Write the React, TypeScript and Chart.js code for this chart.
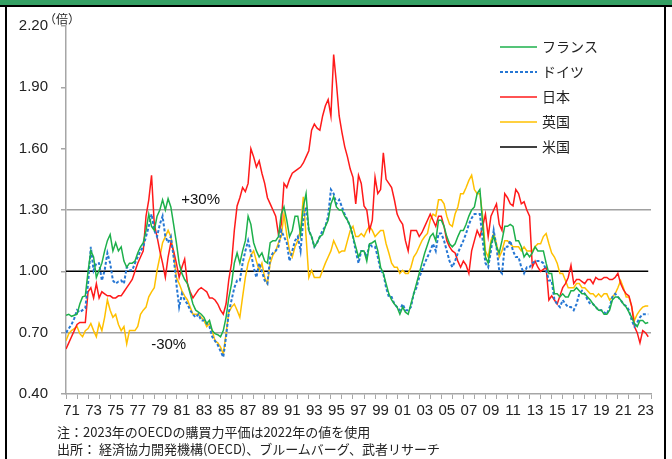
import { useEffect, useRef } from 'react';
import { Chart, registerables } from 'chart.js';
Chart.register(...registerables);

// ---- data (quarterly, starting 1971 Q1) ----
const START_YEAR = 1971;
const STEP = 0.25;
const X_MIN = 1971;
const X_MAX = 2024;
const Y_TICKS = [0.4, 0.7, 1.0, 1.3, 1.6, 1.9, 2.2];
const BAND_LINES = [0.7, 1.3];

const SERIES_NAMES = ['フランス', 'ドイツ', '日本', '英国', '米国'];

const FRANCE = [
  0.785, 0.79, 0.78, 0.785, 0.79, 0.84, 0.875, 0.88, 1.0, 1.1, 1.07, 0.97,
  1.005, 1.04, 1.1, 1.15, 1.18, 1.1, 1.14, 1.1, 1.12, 1.05, 1.02, 1.04,
  1.04, 1.05, 1.09, 1.12, 1.14, 1.2, 1.28, 1.22, 1.2, 1.27, 1.3, 1.35,
  1.3, 1.355, 1.315, 1.23, 1.14, 1.04, 0.99, 0.96, 0.94, 0.89, 0.84, 0.81,
  0.8, 0.79, 0.775, 0.745, 0.76, 0.71, 0.695, 0.69, 0.68, 0.71, 0.775, 0.87,
  0.94, 1.04, 1.09, 1.04, 1.1, 1.15, 1.27, 1.23, 1.14, 1.1, 1.07, 1.09,
  1.05, 1.04, 1.14, 1.15, 1.15, 1.17, 1.28, 1.315, 1.25, 1.17, 1.2, 1.27,
  1.27, 1.18, 1.315, 1.38, 1.2, 1.17, 1.12, 1.14, 1.17, 1.18, 1.22, 1.25,
  1.33, 1.365, 1.315, 1.3, 1.3, 1.27, 1.25, 1.22, 1.17, 1.12, 1.07, 1.1,
  1.1, 1.05, 1.135, 1.14, 1.15, 1.1, 1.02, 0.99, 0.94, 0.89, 0.86, 0.84,
  0.825, 0.79, 0.825, 0.8, 0.79, 0.84, 0.89, 0.94, 0.99, 1.04, 1.09, 1.13,
  1.17, 1.185, 1.15, 1.25, 1.25, 1.22, 1.17, 1.135, 1.12, 1.135, 1.17, 1.2,
  1.2, 1.23, 1.27, 1.3, 1.315, 1.38, 1.4, 1.23, 1.07, 1.04, 1.135, 1.17,
  1.12, 1.09, 1.15, 1.22, 1.22, 1.23, 1.22, 1.15, 1.15, 1.12, 1.07, 1.09,
  1.07, 1.09, 1.12, 1.1, 1.1, 1.1, 1.04, 0.99, 0.99, 0.89, 0.89, 0.875,
  0.89, 0.875, 0.875, 0.905, 0.905, 0.92, 0.905, 0.89, 0.89, 0.875, 0.86, 0.84,
  0.825, 0.81, 0.81, 0.79, 0.79, 0.81, 0.86, 0.875, 0.875, 0.86, 0.84, 0.825,
  0.8, 0.775, 0.745, 0.73, 0.76, 0.76, 0.745, 0.75,
];

const GERMANY = [
  0.7, 0.72, 0.74, 0.77, 0.81, 0.8, 0.81, 0.82, 0.94, 1.12, 1.005, 1.04,
  1.04, 0.955, 1.005, 1.09, 1.04, 0.955, 0.94, 0.95, 0.955, 0.94, 1.02, 1.005,
  1.005, 1.04, 1.07, 1.1, 1.12, 1.17, 1.22, 1.28, 1.2, 1.17, 1.23, 1.27,
  1.17, 1.14, 1.17, 1.07, 0.94, 0.825, 0.89, 0.86, 0.84, 0.81, 0.79, 0.775,
  0.79, 0.76, 0.76, 0.745, 0.73, 0.68, 0.66, 0.64, 0.61, 0.58, 0.68, 0.8,
  0.86, 0.92, 0.955, 0.955, 1.04, 1.1, 1.15, 1.09, 1.02, 0.97, 1.04, 1.0,
  0.955, 0.94, 1.07, 1.09, 1.1, 1.12, 1.2, 1.17, 1.14, 1.05, 1.1, 1.15,
  1.17, 1.1, 1.25, 1.315, 1.2, 1.17, 1.12, 1.14, 1.17, 1.2, 1.22, 1.27,
  1.4, 1.38, 1.33, 1.35, 1.315, 1.28, 1.25, 1.22, 1.17, 1.1, 1.04, 1.1,
  1.1, 1.07, 1.135, 1.12, 1.12, 1.07, 1.005, 0.99, 0.92, 0.875, 0.875, 0.84,
  0.825, 0.81, 0.84, 0.81, 0.81, 0.825, 0.89, 0.92, 0.97, 1.005, 1.04, 1.07,
  1.1, 1.135, 1.1, 1.185, 1.185, 1.15, 1.1, 1.05, 1.02, 1.05, 1.09, 1.12,
  1.15, 1.185, 1.23, 1.26, 1.28, 1.28, 1.28, 1.15, 1.04, 1.02, 1.1, 1.2,
  1.12, 1.005, 0.99, 1.12, 1.12, 1.15, 1.1, 1.07, 1.07, 1.02, 0.99, 1.02,
  1.02, 1.04, 1.05, 1.05, 1.05, 1.04, 1.005, 0.955, 0.955, 0.86, 0.84, 0.825,
  0.86, 0.84, 0.825, 0.825, 0.81, 0.84, 0.89, 0.905, 0.89, 0.86, 0.84, 0.84,
  0.825, 0.81, 0.81, 0.8, 0.79, 0.825, 0.875, 0.89, 0.875, 0.86, 0.84, 0.83,
  0.81, 0.76, 0.73, 0.75, 0.775, 0.79, 0.79, 0.79,
];

const JAPAN = [
  0.62, 0.65, 0.68, 0.71, 0.74, 0.75, 0.75, 0.75, 0.9, 0.92, 0.87, 0.94,
  0.87, 0.9, 0.89, 0.88, 0.88, 0.87, 0.87, 0.88, 0.88, 0.9, 0.92, 0.94,
  0.96, 1.0, 1.04, 1.07, 1.1, 1.27, 1.35, 1.47, 1.23, 1.17, 1.1, 1.04,
  0.97, 1.07, 1.14, 1.1, 1.04, 0.97, 1.02, 1.06, 0.94, 0.9, 0.87, 0.89,
  0.91, 0.92, 0.91, 0.9, 0.87, 0.87, 0.86, 0.84, 0.81, 0.79, 0.84, 0.96,
  1.04, 1.2, 1.32, 1.36, 1.41, 1.39, 1.43, 1.6, 1.56, 1.51, 1.54, 1.48,
  1.43, 1.36, 1.33, 1.3, 1.27, 1.18, 1.23, 1.43, 1.41, 1.45, 1.48, 1.49,
  1.5, 1.51, 1.53, 1.56, 1.59, 1.69, 1.72, 1.7, 1.69, 1.76, 1.81, 1.84,
  1.76, 2.06, 1.92, 1.76, 1.68, 1.61, 1.56, 1.5, 1.46, 1.33, 1.47, 1.43,
  1.32, 1.3, 1.2, 1.25, 1.46, 1.38, 1.4, 1.58, 1.45, 1.43, 1.41, 1.35,
  1.28, 1.25, 1.23, 1.15, 1.1, 1.2, 1.2, 1.2, 1.17, 1.19, 1.22, 1.25,
  1.28, 1.25, 1.22, 1.27, 1.27, 1.22, 1.15, 1.12, 1.1, 1.09, 1.05, 1.02,
  1.05, 1.03, 0.99, 1.1, 1.15, 1.2, 1.17, 1.22, 1.28, 1.17, 1.27, 1.3,
  1.33, 1.23, 1.2, 1.38, 1.36, 1.33, 1.32, 1.4, 1.38, 1.33, 1.34, 1.3,
  1.27, 1.02, 1.05, 1.02, 1.0, 1.01, 1.02, 0.86, 0.88, 0.86, 0.84, 0.88,
  0.92, 0.94, 0.97, 1.03, 0.94, 0.96, 0.96, 0.95, 0.94, 0.96, 0.96, 0.94,
  0.97, 0.96, 0.96, 0.97, 0.97, 0.96, 0.96, 0.97, 0.99, 0.94, 0.91, 0.89,
  0.88, 0.83, 0.73, 0.7, 0.65, 0.71, 0.7, 0.68,
];

const UK = [
  0.66, 0.695, 0.71, 0.72, 0.73, 0.695, 0.68, 0.71, 0.72, 0.745, 0.71, 0.68,
  0.745, 0.71, 0.775, 0.86, 0.81, 0.775, 0.79, 0.74, 0.71, 0.73, 0.645, 0.71,
  0.71, 0.71, 0.73, 0.79, 0.81, 0.825, 0.875, 0.9, 0.92, 1.005, 1.07, 1.14,
  1.17, 1.2, 1.17, 1.09, 0.97, 0.94, 0.905, 0.88, 0.86, 0.825, 0.79, 0.79,
  0.79, 0.775, 0.76, 0.73, 0.745, 0.71, 0.66, 0.65, 0.63, 0.595, 0.695, 0.8,
  0.825, 0.84, 0.81, 0.775, 0.875, 0.97, 1.04, 1.08, 1.1, 1.05, 1.005, 1.04,
  0.97, 0.94, 1.04, 1.08, 1.1, 1.14, 1.17, 1.28, 1.18, 1.1, 1.07, 1.12,
  1.15, 1.2, 1.365, 1.17, 0.97, 1.005, 0.97, 0.97, 0.97, 1.005, 1.04, 1.07,
  1.1, 1.15, 1.12, 1.09, 1.1, 1.1, 1.15, 1.2, 1.22, 1.17, 1.17, 1.185,
  1.17, 1.2, 1.22, 1.2, 1.17, 1.185, 1.2, 1.2, 1.135, 1.09, 1.04, 1.02,
  1.02, 0.99, 1.005, 0.99, 0.99, 1.02, 1.07, 1.09, 1.12, 1.15, 1.17, 1.185,
  1.25, 1.28, 1.27, 1.35, 1.35, 1.33, 1.27, 1.23, 1.22, 1.28, 1.315, 1.38,
  1.38, 1.41, 1.445, 1.47, 1.4, 1.38, 1.38, 1.27, 1.1, 1.07, 1.15, 1.185,
  1.135, 1.07, 1.1, 1.15, 1.15, 1.135, 1.12, 1.12, 1.12, 1.1, 1.12, 1.1,
  1.1, 1.1, 1.12, 1.135, 1.135, 1.17, 1.185, 1.135, 1.09, 1.07, 1.04, 0.99,
  0.99, 0.955, 0.92, 0.92, 0.92, 0.94, 0.94, 0.92, 0.92, 0.905, 0.89, 0.89,
  0.875, 0.89, 0.875, 0.89, 0.89, 0.86, 0.875, 0.89, 0.92, 0.955, 0.92, 0.875,
  0.875, 0.825, 0.76, 0.79, 0.81, 0.825, 0.83, 0.83,
];

const US_TIMES = [1971, 2023.75];
const US = [1.0, 1.0];

const COLORS = ['#1DB04B', '#2677D4', '#FF1A1A', '#FFC000', '#000000'];

const toPoints = (values: number[]) =>
  values.map((v, i) => ({ x: START_YEAR + i * STEP, y: v }));

const FONT = "'Liberation Sans', Arial, sans-serif";
const JP_FONT = "'Noto Sans CJK JP', 'Noto Sans', sans-serif";

const overlayPlugin = {
  id: 'overlay',
  afterDatasetsDraw(chart: any) {
    const ctx = chart.ctx;
    const xs = chart.scales.x;
    const ys = chart.scales.y;
    ctx.save();
    // band labels
    ctx.fillStyle = '#111';
    ctx.font = `15px ${FONT}`;
    ctx.textAlign = 'center';
    ctx.textBaseline = 'middle';
    ctx.fillText('+30%', xs.getPixelForValue(1983.2), ys.getPixelForValue(1.35));
    ctx.fillText('-30%', xs.getPixelForValue(1980.3), ys.getPixelForValue(0.64));
    // unit label
    ctx.font = `12px ${JP_FONT}`;
    ctx.textAlign = 'left';
    ctx.fillStyle = '#222';
    ctx.fillText('（倍）', 44, 19);
    // legend
    const rows = [47, 72, 97, 122, 147];
    chart.data.datasets.forEach((ds: any, i: number) => {
      const y = rows[i];
      ctx.beginPath();
      ctx.strokeStyle = ds.borderColor;
      ctx.lineWidth = ds.borderWidth;
      ctx.setLineDash(ds.borderDash || []);
      ctx.moveTo(500, y);
      ctx.lineTo(537, y);
      ctx.stroke();
      ctx.setLineDash([]);
      ctx.fillStyle = '#222';
      ctx.font = `14px ${JP_FONT}`;
      ctx.textAlign = 'left';
      ctx.textBaseline = 'middle';
      ctx.fillText(ds.label, 542, y);
    });
    ctx.restore();
  },
};

export default function App() {
  const ref = useRef<HTMLCanvasElement | null>(null);

  useEffect(() => {
    if (!ref.current) return;
    const chart = new Chart(ref.current, {
      type: 'line',
      data: {
        datasets: [
          { label: SERIES_NAMES[0], data: toPoints(FRANCE), borderColor: COLORS[0], borderWidth: 1.5 },
          { label: SERIES_NAMES[1], data: toPoints(GERMANY), borderColor: COLORS[1], borderWidth: 2, borderDash: [3, 2] },
          { label: SERIES_NAMES[2], data: toPoints(JAPAN), borderColor: COLORS[2], borderWidth: 1.5 },
          { label: SERIES_NAMES[3], data: toPoints(UK), borderColor: COLORS[3], borderWidth: 1.5 },
          {
            label: SERIES_NAMES[4],
            data: US.map((v, i) => ({ x: US_TIMES[i], y: v })),
            borderColor: COLORS[4],
            borderWidth: 1.5,
          },
        ],
      },
      options: {
        animation: false,
        responsive: false,
        events: [],
        elements: { point: { radius: 0 }, line: { tension: 0 } },
        layout: { padding: { top: 26, right: 21, left: 0, bottom: 0 } },
        plugins: { legend: { display: false }, tooltip: { enabled: false } },
        scales: {
          x: {
            type: 'linear',
            min: X_MIN,
            max: X_MAX,
            afterBuildTicks: (scale: any) => {
              const t: any[] = [];
              for (let yr = X_MIN; yr <= X_MAX; yr++) {
                t.push({ value: yr });
                if (yr < X_MAX) t.push({ value: yr + 0.5 });
              }
              scale.ticks = t;
            },
            afterFit: (scale: any) => {
              scale.height = 65;
            },
            ticks: {
              autoSkip: false,
              maxRotation: 0,
              minRotation: 0,
              padding: 3,
              color: '#222',
              font: { family: FONT, size: 15 },
              callback: (value: any) => {
                const v = Number(value);
                const yr = Math.floor(v);
                if (Math.abs(v - yr - 0.5) < 1e-6 && (yr - START_YEAR) % 2 === 0) {
                  return String(yr % 100).padStart(2, '0');
                }
                return '';
              },
            },
            grid: {
              drawOnChartArea: false,
              tickLength: 5,
              tickColor: (ctx: any) =>
                ctx.tick && Number.isInteger(ctx.tick.value) ? '#A6A6A6' : 'rgba(0,0,0,0)',
            },
            border: { color: '#A6A6A6', width: 1.5 },
          },
          y: {
            min: 0.4,
            max: 2.2,
            afterBuildTicks: (scale: any) => {
              scale.ticks = Y_TICKS.map((v) => ({ value: v }));
            },
            afterFit: (scale: any) => {
              scale.width = 66;
            },
            ticks: {
              padding: 13,
              color: '#222',
              font: { family: FONT, size: 15 },
              callback: (value: any) => Number(value).toFixed(2),
            },
            grid: {
              tickLength: 5,
              lineWidth: 1.5,
              tickColor: '#A6A6A6',
              color: (ctx: any) => {
                const v = ctx.tick ? Math.round(ctx.tick.value * 100) / 100 : 0;
                return BAND_LINES.includes(v) ? '#A0A0A0' : 'rgba(0,0,0,0)';
              },
            },
            border: { color: '#A6A6A6', width: 1.5 },
          },
        },
      },
      plugins: [overlayPlugin],
    } as any);
    return () => chart.destroy();
  }, []);

  const noteStyle: any = {
    position: 'absolute',
    left: 57,
    fontFamily: JP_FONT,
    fontSize: 13,
    color: '#222',
    whiteSpace: 'nowrap',
    lineHeight: '16px',
  };

  return (
    <div
      style={{
        position: 'fixed',
        left: 0,
        top: 0,
        width: 672,
        height: 459,
        background: '#fff',
        overflow: 'hidden',
      }}
    >
      <canvas
        ref={ref}
        width={672}
        height={459}
        style={{ position: 'absolute', left: 0, top: 0, width: 672, height: 459 }}
      />
      <div style={{ position: 'absolute', left: 0, top: 0, width: 672, height: 5, background: '#35A064' }} />
      <div style={{ position: 'absolute', left: 0, top: 5, width: 672, height: 2, background: '#000' }} />
      <div style={{ position: 'absolute', left: 5, top: 5, width: 2, height: 454, background: '#000' }} />
      <div style={{ position: 'absolute', left: 664, top: 5, width: 2, height: 454, background: '#000' }} />
      <div style={{ ...noteStyle, top: 424 }}>注：2023年のOECDの購買力平価は2022年の値を使用</div>
      <div style={{ ...noteStyle, top: 441 }}>出所： 経済協力開発機構(OECD)、ブルームバーグ、武者リサーチ</div>
    </div>
  );
}
